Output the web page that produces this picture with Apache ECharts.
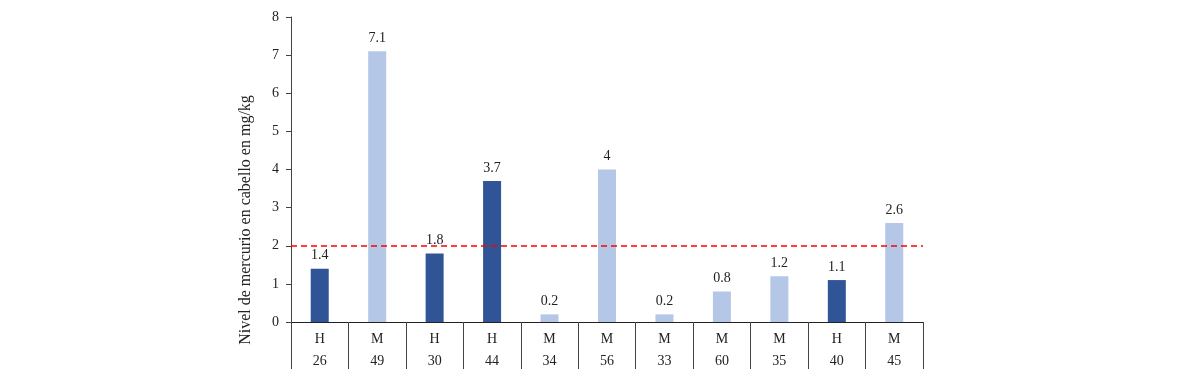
<!DOCTYPE html>
<html>
<head>
<meta charset="utf-8">
<script src="https://cdn.jsdelivr.net/npm/echarts@6/dist/echarts.min.js"></script>
<style>
html,body{margin:0;padding:0;background:#fff;}
#chart{width:1200px;height:384px;}
</style>
</head>
<body>
<div id="chart"></div>
<script>
var sexes = ['H','M','H','H','M','M','M','M','M','H','M'];
var ages = ['26','49','30','44','34','56','33','60','35','40','45'];
var values = [1.4, 7.1, 1.8, 3.7, 0.2, 4, 0.2, 0.8, 1.2, 1.1, 2.6];
var yTicks = [0,1,2,3,4,5,6,7,8];
var threshold = 2;
var yTitle = 'Nivel de mercurio en cabello en mg/kg';

var colorH = '#2F5597';
var colorM = '#B4C7E7';
var FONT = 'Liberation Serif';

var categories = sexes.map(function(s, i){ return s + '\n' + ages[i]; });
var barData = values.map(function(v, i){
  return { value: v, itemStyle: { color: sexes[i] === 'H' ? colorH : colorM } };
});

var chart = echarts.init(document.getElementById('chart'));
chart.setOption({
  animation: false,
  grid: { left: 291, right: 277, top: 17, bottom: 62, containLabel: false },
  graphic: [{
    type: 'text',
    x: 246, y: 220,
    rotation: Math.PI / 2,
    style: {
      text: yTitle, fill: '#222', fontFamily: FONT, fontSize: 16,
      align: 'center', verticalAlign: 'middle'
    }
  }],
  xAxis: {
    type: 'category',
    data: categories,
    axisLine: { show: true, lineStyle: { color: '#222', width: 1 } },
    axisTick: { show: true, length: 47, interval: 0, lineStyle: { color: '#444', width: 1 } },
    axisLabel: {
      interval: 0, margin: 6, color: '#222', fontFamily: FONT, fontSize: 14, lineHeight: 22
    }
  },
  yAxis: {
    type: 'value',
    min: 0, max: 8, interval: 1,
    splitLine: { show: false },
    axisLine: { show: true, lineStyle: { color: '#444', width: 1 } },
    axisTick: { show: true, length: 5, lineStyle: { color: '#444' } },
    axisLabel: {
      margin: 12, color: '#222', fontFamily: FONT, fontSize: 14,
      formatter: function(v){ return yTicks.indexOf(v) >= 0 ? String(v) : ''; }
    }
  },
  series: [{
    type: 'bar',
    data: barData,
    barWidth: 18,
    label: {
      show: true, position: 'top', distance: 6,
      color: '#222', fontFamily: FONT, fontSize: 14
    },
    markLine: {
      silent: true,
      symbol: ['none','none'],
      label: { show: false },
      lineStyle: { color: '#FF0000', type: [6,4], width: 1.5 },
      data: [{ yAxis: threshold }]
    }
  }]
});
</script>
</body>
</html>
